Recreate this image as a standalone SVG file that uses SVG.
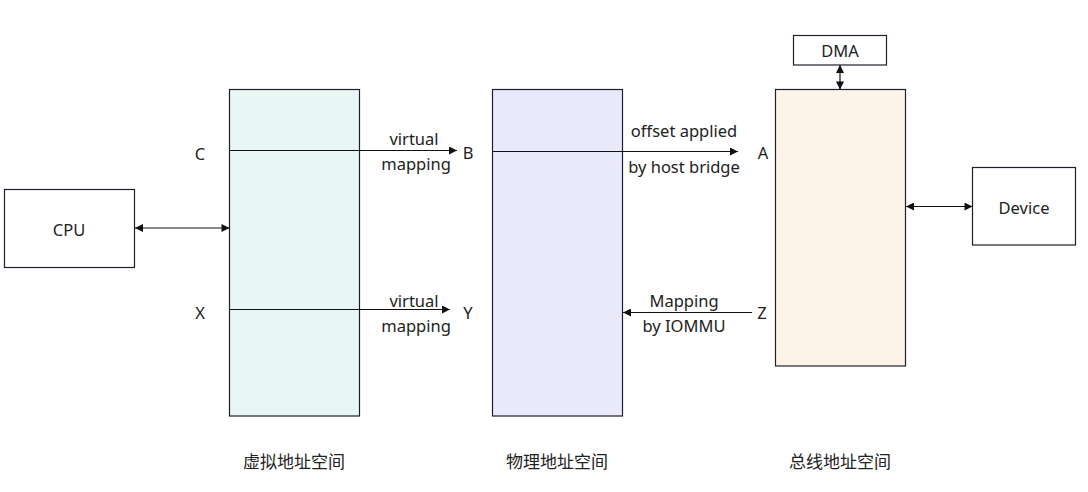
<svg xmlns="http://www.w3.org/2000/svg" width="1088" height="492" viewBox="0 0 1088 492">
<style>
.box{stroke:#1e1e30;stroke-width:1.2;fill:#fff}
.t{font-family:"Noto Sans","Liberation Sans",sans-serif;font-size:16.5px;fill:#222;text-anchor:middle;dominant-baseline:central}
.c{font-family:"Noto Sans CJK SC","Noto Sans",sans-serif;font-size:17px;fill:#222;text-anchor:middle;dominant-baseline:central}
.ln{stroke:#111;stroke-width:1.2;fill:none}
</style>
<defs>
<marker id="ah" viewBox="0 0 10 10" refX="10" refY="5" markerWidth="10" markerHeight="8" markerUnits="userSpaceOnUse" orient="auto-start-reverse">
<path d="M0,0 L10,5 L0,10 z" fill="#111"/>
</marker>
</defs>
<rect width="1088" height="492" fill="#fff"/>
<g id="cpu"><rect class="box" x="4.5" y="189.5" width="130" height="78"/><text class="t" x="69" y="229">CPU</text></g>
<g id="vspace"><rect class="box" x="229.5" y="89.5" width="130" height="326.5" style="fill:#e8f7f3"/><text class="c" x="294" y="460">虚拟地址空间</text></g>
<g id="pspace"><rect class="box" x="492.5" y="89.5" width="130" height="326.5" style="fill:#e8eafc"/><text class="c" x="557" y="460">物理地址空间</text></g>
<g id="bspace"><rect class="box" x="775.5" y="89.5" width="130" height="276.5" style="fill:#fdf3e8"/><text class="c" x="840" y="460">总线地址空间</text></g>
<g id="dma"><rect class="box" x="793.5" y="35.5" width="93" height="29.5"/><text class="t" x="840" y="50">DMA</text></g>
<g id="device"><rect class="box" x="972.5" y="167.5" width="103" height="77.5"/><text class="t" x="1024" y="207">Device</text></g>
<g id="labels">
<text class="t" x="200" y="153">C</text>
<text class="t" x="200" y="312">X</text>
<text class="t" x="468" y="152">B</text>
<text class="t" x="468" y="312">Y</text>
<text class="t" x="763" y="152">A</text>
<text class="t" x="762" y="312">Z</text>
</g>
<g id="connectors">
<line class="ln" x1="135" y1="228" x2="229.5" y2="228" marker-start="url(#ah)" marker-end="url(#ah)"/>
<line class="ln" x1="229.5" y1="150.5" x2="457" y2="150.5" marker-end="url(#ah)"/>
<line class="ln" x1="229.5" y1="309.5" x2="450" y2="309.5" marker-end="url(#ah)"/>
<line class="ln" x1="492.5" y1="151.5" x2="738" y2="151.5" marker-end="url(#ah)"/>
<line class="ln" x1="752" y1="312.5" x2="623" y2="312.5" marker-end="url(#ah)"/>
<line class="ln" x1="840" y1="65" x2="840" y2="89.5" marker-start="url(#ah)" marker-end="url(#ah)"/>
<line class="ln" x1="906" y1="206.5" x2="972.5" y2="206.5" marker-start="url(#ah)" marker-end="url(#ah)"/>
<text class="t" x="414" y="138">virtual</text>
<text class="t" x="416" y="163">mapping</text>
<text class="t" x="414" y="300">virtual</text>
<text class="t" x="416" y="325">mapping</text>
<text class="t" x="684" y="130">offset applied</text>
<text class="t" x="684" y="166">by host bridge</text>
<text class="t" x="684" y="300">Mapping</text>
<text class="t" x="684" y="325">by IOMMU</text>
</g>
</svg>
